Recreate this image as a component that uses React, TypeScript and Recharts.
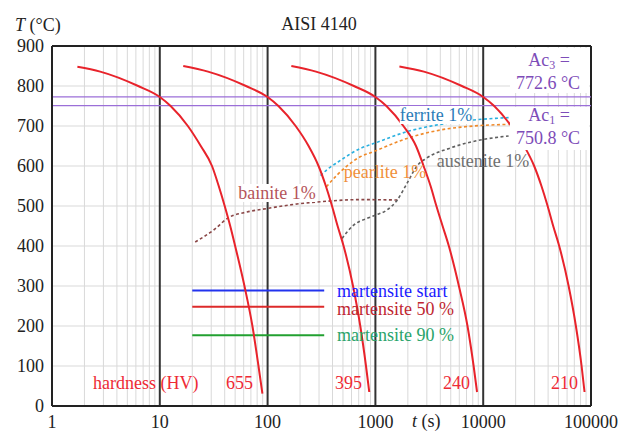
import React from "react";
import { LineChart, Line, XAxis, YAxis, CartesianGrid, ReferenceLine } from "recharts";

// CCT diagram AISI 4140
// cooling curves: [t (s), T (°C)]
const cool655 = [
  [1.72, 848], [2.8, 836], [6.3, 800], [10, 772.6], [12.6, 750], [18.2, 700], [24, 650], [30.5, 600],
  [35.2, 550], [40, 500], [45, 450], [50, 400], [61, 300], [72.3, 200], [82.3, 100], [89.5, 31],
];
const cool395 = [
  [16.5, 850], [28, 836], [63, 800], [100, 772.6], [126, 750], [182, 700], [240, 650], [297, 600],
  [347, 550], [396, 500], [446, 450], [507, 400], [620, 300], [724, 200], [818, 100], [877, 35],
];
const cool240 = [
  [166, 850], [281, 836], [632, 800], [1000, 772.6], [1265, 750], [1818, 700], [2380, 650], [2800, 600],
  [3250, 550], [3680, 500], [4200, 450], [4800, 400], [5950, 300], [7150, 200], [8150, 100], [8770, 35],
];
const cool210 = [
  [1670, 849], [2818, 836], [6340, 800], [10000, 772.6], [12650, 750], [18180, 700], [24000, 650], [29700, 600],
  [34700, 550], [39600, 500], [44600, 450], [50700, 400], [62000, 300], [72400, 200], [81800, 100], [87100, 35],
];

// 1% transformation lines
const ferrite1 = [
  [310, 576], [360, 592], [450, 610], [724, 644], [962, 656], [1963, 686], [4000, 704], [8150, 715], [17200, 721],
];
const pearlite1 = [
  [351, 548], [440, 577], [724, 623], [962, 636], [1963, 669], [4000, 690], [8150, 700], [17200, 704],
];
const austenite1 = [
  [490, 419], [628, 452], [835, 469], [1000, 477], [1280, 490], [1585, 514], [1960, 556],
  [2430, 600], [3000, 620], [4950, 645], [9400, 665], [17200, 675],
];
const bainite1 = [
  [21.3, 410], [31.6, 440], [43.5, 471], [64.4, 485], [100, 494], [187, 505], [356, 512], [724, 516], [1600, 515],
];

// martensite levels (°C), drawn from t=20 to t=335 s
const msStart = 289;
const ms50 = 248;
const ms90 = 177;
const msSpan = [20, 335];

const ac3 = 772.6;
const ac1 = 750.8;

const xTicks = [1, 10, 100, 1000, 10000, 100000];
const yTicks = [0, 100, 200, 300, 400, 500, 600, 700, 800, 900];
const decadeLines = [10, 100, 1000, 10000];
const minorSteps = [2, 3, 4, 5, 6, 7, 8, 9];
const minorLines = [1, 10, 100, 1000, 10000].flatMap((d) => minorSteps.map((m) => m * d));

const FONT = "'Liberation Serif', 'Times New Roman', serif";
const RED = "#e8232b";

const pts = (arr: number[][]) => arr.map(([t, T]) => ({ t, T }));
const flat = (T: number) => msSpan.map((t) => ({ t, T }));

function Note({ x, y, color = "#222", anchor = "middle", bg, children }: any) {
  return (
    <div
      style={{
        position: "absolute",
        left: x,
        top: y,
        transform: `translate(${anchor === "middle" ? "-50%" : "0"}, -50%)`,
        fontFamily: FONT,
        fontSize: 18,
        lineHeight: "18px",
        whiteSpace: "nowrap",
        color,
        background: bg ? "#fff" : undefined,
      }}
    >
      {children}
    </div>
  );
}

const tickStyle = { fontSize: 18, fill: "#222", fontFamily: FONT };

export default function App() {
  return (
    <div style={{ position: "absolute", left: 0, top: 0, width: 618, height: 432, background: "#fff", fontFamily: FONT }}>
      <LineChart width={618} height={432} margin={{ top: 46, right: 27, left: 0, bottom: 0 }}>
        <CartesianGrid vertical={false} stroke="#d9d9d9" />
        {minorLines.map((v) => (
          <ReferenceLine key={v} x={v} stroke="#d9d9d9" strokeWidth={1} />
        ))}
        <XAxis
          dataKey="t"
          type="number"
          scale="log"
          domain={[1, 100000]}
          allowDataOverflow
          ticks={xTicks}
          height={26}
          tickLine={false}
          tickSize={7}
          tick={tickStyle}
          axisLine={{ stroke: "#222", strokeWidth: 2 }}
        />
        <YAxis
          type="number"
          domain={[0, 900]}
          ticks={yTicks}
          width={52}
          tickLine={false}
          tickSize={6}
          tick={tickStyle}
          axisLine={{ stroke: "#222", strokeWidth: 2 }}
        />
        {decadeLines.map((v) => (
          <ReferenceLine key={v} x={v} stroke="#333" strokeWidth={2} />
        ))}
        <ReferenceLine x={100000} stroke="#222" strokeWidth={2} />
        <ReferenceLine y={900} stroke="#222" strokeWidth={2} />
        <ReferenceLine y={ac3} stroke="#9b6fd8" strokeWidth={1.3} />
        <ReferenceLine y={ac1} stroke="#9b6fd8" strokeWidth={1.3} />

        <Line data={pts(bainite1)} dataKey="T" type="monotone" stroke="#8a4646" strokeWidth={1.6} strokeDasharray="3 2.5" dot={false} isAnimationActive={false} />
        <Line data={pts(austenite1)} dataKey="T" type="monotone" stroke="#5f5f5f" strokeWidth={1.6} strokeDasharray="3 2.5" dot={false} isAnimationActive={false} />
        <Line data={pts(pearlite1)} dataKey="T" type="monotone" stroke="#f08a2a" strokeWidth={1.6} strokeDasharray="3 2.5" dot={false} isAnimationActive={false} />
        <Line data={pts(ferrite1)} dataKey="T" type="monotone" stroke="#2ab0e0" strokeWidth={1.6} strokeDasharray="3 2.5" dot={false} isAnimationActive={false} />

        <Line data={flat(msStart)} dataKey="T" stroke="#2233ee" strokeWidth={2} dot={false} isAnimationActive={false} />
        <Line data={flat(ms50)} dataKey="T" stroke="#dd2a2a" strokeWidth={2} dot={false} isAnimationActive={false} />
        <Line data={flat(ms90)} dataKey="T" stroke="#22a030" strokeWidth={2} dot={false} isAnimationActive={false} />

        <Line data={pts(cool655)} dataKey="T" type="monotone" stroke={RED} strokeWidth={2} dot={false} isAnimationActive={false} />
        <Line data={pts(cool395)} dataKey="T" type="monotone" stroke={RED} strokeWidth={2} dot={false} isAnimationActive={false} />
        <Line data={pts(cool240)} dataKey="T" type="monotone" stroke={RED} strokeWidth={2} dot={false} isAnimationActive={false} />
        <Line data={pts(cool210)} dataKey="T" type="monotone" stroke={RED} strokeWidth={2} dot={false} isAnimationActive={false} />
      </LineChart>

      {/* white boxes behind the Ac labels */}
      <div style={{ position: "absolute", left: 510, top: 48, width: 79, height: 45, background: "#fff" }} />
      <div style={{ position: "absolute", left: 510, top: 107, width: 79, height: 43, background: "#fff" }} />

      <Note x={15} y={25} anchor="start">
        <i>T</i> (°C)
      </Note>
      <Note x={319} y={24}>AISI 4140</Note>
      <Note x={412} y={421} anchor="start">
        <i>t</i> (s)
      </Note>

      <Note x={549} y={62} color="#7d4cb8">
        Ac<sub style={{ fontSize: 12, verticalAlign: "-3px" }}>3</sub> =
      </Note>
      <Note x={548} y={83} color="#7d4cb8">772.6 °C</Note>
      <Note x={549} y={117} color="#7d4cb8">
        Ac<sub style={{ fontSize: 12, verticalAlign: "-3px" }}>1</sub> =
      </Note>
      <Note x={548} y={138} color="#7d4cb8">750.8 °C</Note>

      <Note x={436} y={115} color="#2b7cb8" bg>ferrite 1%</Note>
      <Note x={385} y={172} color="#f0903a">pearlite 1%</Note>
      <Note x={483} y={161} color="#707070">austenite 1%</Note>
      <Note x={277} y={193} color="#b5555a" bg>bainite 1%</Note>

      <Note x={337} y={291} anchor="start" color="#1a1aff">martensite start</Note>
      <Note x={337} y={309} anchor="start" color="#c02630">martensite 50 %</Note>
      <Note x={337} y={335} anchor="start" color="#2aa46a">martensite 90 %</Note>

      <Note x={93} y={383} anchor="start" color="#ee2a35">hardness (HV)</Note>
      <Note x={226} y={383} anchor="start" color="#ee2a35">655</Note>
      <Note x={335} y={383} anchor="start" color="#ee2a35">395</Note>
      <Note x={443} y={383} anchor="start" color="#ee2a35">240</Note>
      <Note x={551} y={383} anchor="start" color="#ee2a35">210</Note>
    </div>
  );
}
